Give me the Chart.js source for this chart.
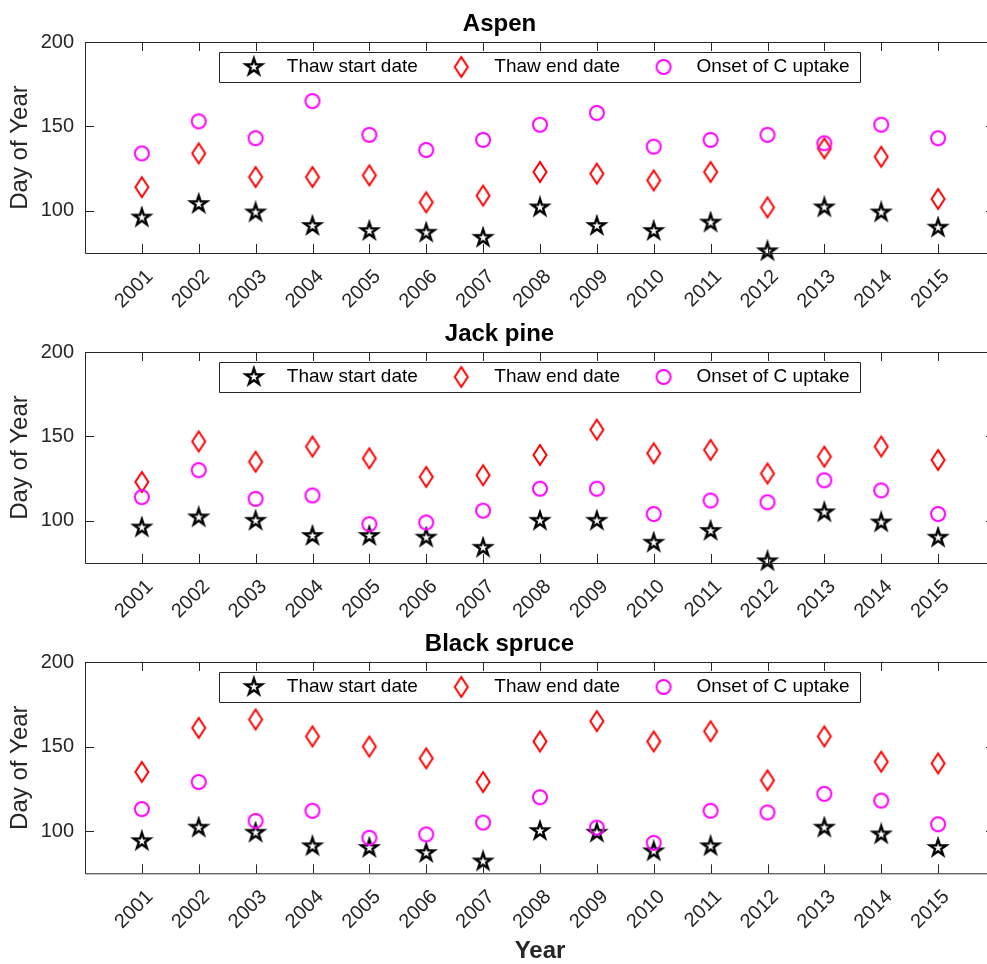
<!DOCTYPE html>
<html>
<head>
<meta charset="utf-8">
<title>Thaw dates and onset of C uptake</title>
<script src="https://cdn.jsdelivr.net/npm/chart.js@4.4.1/dist/chart.umd.min.js"></script>
<style>
    html, body { margin: 0; padding: 0; background: #fff; overflow: hidden; }
    #wrap { position: relative; width: 987px; height: 964px; overflow: hidden; }
    canvas { position: absolute; left: 0; }
</style>
</head>
<body>
<div id="wrap">
    <canvas id="aspenChart" width="1000" height="310" style="top:0px"></canvas>
    <canvas id="jackChart" width="1000" height="310" style="top:310px"></canvas>
    <canvas id="spruceChart" width="1000" height="346" style="top:620px"></canvas>
</div>
<script>
const years = [2001, 2002, 2003, 2004, 2005, 2006, 2007, 2008, 2009, 2010, 2011, 2012, 2013, 2014, 2015];
const yTicks = [100, 150, 200];
const seriesNames = ['Thaw start date', 'Thaw end date', 'Onset of C uptake'];

const aspenStart = [96, 104, 99, 91, 88, 87, 84, 102, 91, 88, 93, 76, 102, 99, 90];
const aspenEnd = [114, 134, 120, 120, 121, 105, 109, 123, 122, 118, 123, 102, 137, 132, 107];
const aspenOnset = [134, 153, 143, 165, 145, 136, 142, 151, 158, 138, 142, 145, 140, 151, 143];

const jackStart = [96, 102, 100, 91, 91, 90, 84, 100, 100, 87, 94, 76, 105, 99, 90];
const jackEnd = [123, 147, 135, 144, 137, 126, 127, 139, 154, 140, 142, 128, 138, 144, 136];
const jackOnset = [114, 130, 113, 115, 98, 99, 106, 119, 119, 104, 112, 111, 124, 118, 104];

const spruceStart = [94, 102, 99, 91, 90, 87, 82, 100, 99, 88, 91, null, 102, 98, 90];
const spruceEnd = [135, 161, 166, 156, 150, 143, 129, 153, 165, 153, 159, 130, 156, 141, 140];
const spruceOnset = [113, 129, 106, 112, 96, 98, 105, 120, 102, 93, 112, 111, 122, 118, 104];

Chart.defaults.font.family = '"Liberation Sans", Arial, Helvetica, sans-serif';
const axisColor = '#262626';
const tickLen = 9;

// MATLAB-like markers drawn once on small canvases
function makeMarker(w, h, lineWidth, draw) {
    const c = document.createElement('canvas');
    c.width = w;
    c.height = h;
    const g = c.getContext('2d');
    g.lineWidth = lineWidth;
    g.lineJoin = 'miter';
    g.translate(w / 2, h / 2);
    draw(g);
    return c;
}
const starMarker = makeMarker(24, 24, 2.4, g => {
    const R = 8.5, r = R * 0.382;
    g.beginPath();
    for (let k = 0; k < 10; k++) {
        const a = -Math.PI / 2 + k * Math.PI / 5;
        const rad = k % 2 === 0 ? R : r;
        g.lineTo(rad * Math.cos(a), rad * Math.sin(a));
    }
    g.closePath();
    g.strokeStyle = '#000';
    g.stroke();
});
const diamondMarker = makeMarker(22, 26, 2, g => {
    g.beginPath();
    g.moveTo(0, -10);
    g.lineTo(6.5, 0);
    g.lineTo(0, 10);
    g.lineTo(-6.5, 0);
    g.closePath();
    g.strokeStyle = '#ff0000';
    g.stroke();
});
const circleMarker = makeMarker(22, 22, 2, g => {
    g.beginPath();
    g.arc(0, 0, 7, 0, Math.PI * 2);
    g.strokeStyle = '#ff00ff';
    g.stroke();
});

const axesBox = {
    id: 'axesBox',
    beforeUpdate(chart) {
        // legend sits inside the axes but in one row
        if (chart.legend) chart.legend.isHorizontal = () => true;
    },
    afterLayout(chart) {
        const a = chart.chartArea;
        chart.legend.left = a.left;
        chart.legend.right = a.right;
        chart.legend.top = a.top - 4.5;
    },
    afterDraw(chart) {
        const {ctx, chartArea: a, scales: {x, y}} = chart;
        ctx.save();
        ctx.strokeStyle = axisColor;
        ctx.lineWidth = 1;
        ctx.beginPath();
        ctx.rect(a.left + 0.5, a.top + 0.5, a.right - a.left, a.bottom - a.top);
        x.ticks.forEach(t => {
            const px = Math.round(x.getPixelForValue(t.value)) + 0.5;
            ctx.moveTo(px, a.bottom);
            ctx.lineTo(px, a.bottom - tickLen);
            ctx.moveTo(px, a.top);
            ctx.lineTo(px, a.top + tickLen);
        });
        y.ticks.forEach(t => {
            const py = Math.round(y.getPixelForValue(t.value)) + 0.5;
            ctx.moveTo(a.left, py);
            ctx.lineTo(a.left + tickLen, py);
            ctx.moveTo(a.right, py);
            ctx.lineTo(a.right - tickLen, py);
        });
        ctx.stroke();

        const hb = chart.legend.legendHitBoxes;
        if (hb && hb.length) {
            const first = hb[0];
            const last = hb[hb.length - 1];
            const cy = first.top + first.height / 2;
            const left = Math.round(first.left - 11) + 0.5;
            const right = Math.round(last.left + last.width + 10) + 0.5;
            ctx.beginPath();
            ctx.rect(left, Math.round(cy - 15) + 0.5, right - left, 30);
            ctx.stroke();
        }
        ctx.restore();
    },
};

function makePanel(canvasId, title, start, end, onset, xHeight, showXTitle) {
    const ctx = document.getElementById(canvasId).getContext('2d');
    const toPoints = arr => years.map((yr, i) => ({x: yr, y: arr[i]}));
    return new Chart(ctx, {
        type: 'scatter',
        data: {
            datasets: [{
                label: seriesNames[0],
                data: toPoints(start),
                pointStyle: starMarker,
                order: 3,
                clip: false,
            }, {
                label: seriesNames[1],
                data: toPoints(end),
                pointStyle: diamondMarker,
                order: 2,
                clip: false,
            }, {
                label: seriesNames[2],
                data: toPoints(onset),
                pointStyle: circleMarker,
                order: 1,
                clip: false,
            }],
        },
        options: {
            responsive: false,
            animation: false,
            devicePixelRatio: 1,
            events: [],
            layout: {
                padding: {left: 0, right: 1, top: 0, bottom: 0},
            },
            plugins: {
                title: {
                    display: true,
                    text: title,
                    color: '#000',
                    font: {size: 24, weight: 'bold'},
                    padding: {top: 9.5, bottom: 3.7},
                },
                legend: {
                    position: 'chartArea',
                    align: 'center',
                    labels: {
                        usePointStyle: true,
                        pointStyleWidth: 47,
                        padding: 20,
                        color: '#000',
                        font: {size: 19},
                        sort: (a, b) => a.datasetIndex - b.datasetIndex,
                    },
                },
                tooltip: {enabled: false},
            },
            scales: {
                x: {
                    type: 'linear',
                    min: 2000,
                    max: 2016,
                    afterBuildTicks: scale => {
                        scale.ticks = years.map(v => ({value: v}));
                    },
                    afterFit: scale => {
                        scale.height = xHeight;
                        scale.paddingLeft = 0;
                        scale.paddingRight = 0;
                    },
                    grid: {display: false, drawTicks: false},
                    border: {display: false},
                    ticks: {
                        autoSkip: false,
                        minRotation: 45,
                        maxRotation: 45,
                        padding: 12,
                        labelOffset: 8,
                        color: axisColor,
                        font: {size: 20},
                        callback: v => String(v),
                    },
                    title: {
                        display: showXTitle,
                        text: 'Year',
                        color: axisColor,
                        font: {size: 24, weight: 'bold'},
                        padding: {top: 0, bottom: 0},
                    },
                },
                y: {
                    min: 75,
                    max: 200,
                    afterBuildTicks: scale => {
                        scale.ticks = yTicks.map(v => ({value: v}));
                    },
                    afterFit: scale => {
                        scale.width = 85;
                        scale.paddingTop = 0;
                        scale.paddingBottom = 0;
                    },
                    grid: {display: false, drawTicks: false},
                    border: {display: false},
                    ticks: {
                        padding: 11,
                        color: axisColor,
                        font: {size: 20},
                    },
                    title: {
                        display: true,
                        text: 'Day of Year',
                        color: axisColor,
                        font: {size: 24},
                        padding: {top: 6, bottom: 0},
                    },
                },
            },
        },
        plugins: [axesBox],
    });
}

makePanel('aspenChart', 'Aspen', aspenStart, aspenEnd, aspenOnset, 57, false);
makePanel('jackChart', 'Jack pine', jackStart, jackEnd, jackOnset, 57, false);
makePanel('spruceChart', 'Black spruce', spruceStart, spruceEnd, spruceOnset, 92.7, true);
</script>
</body>
</html>
